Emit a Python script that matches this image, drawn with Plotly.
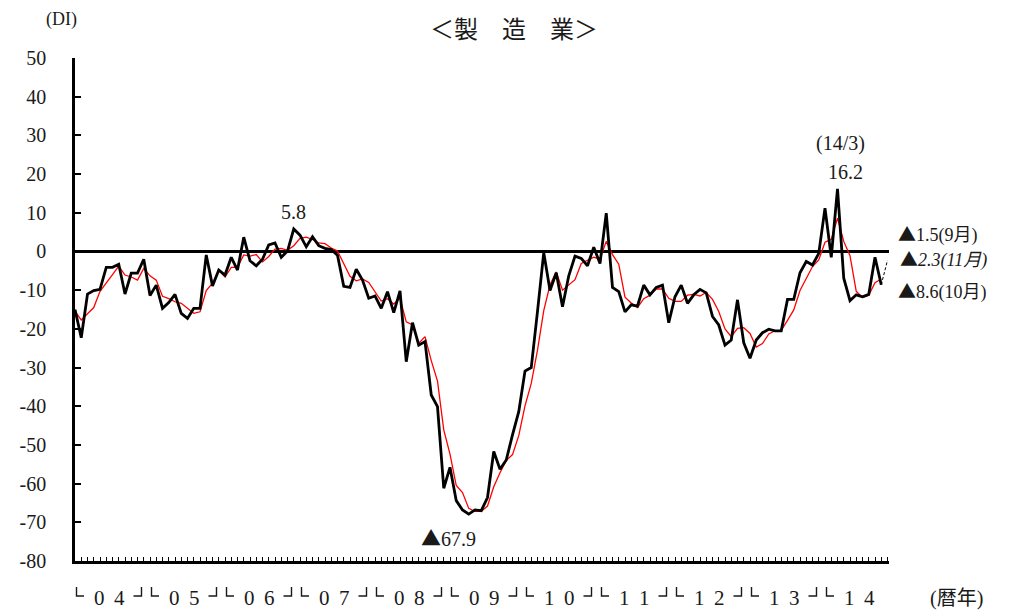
import plotly.graph_objects as go

# Monthly DI, Jan 2004 .. Oct 2014 (black line)
black_di = [
    -15.0, -22.3, -11.0, -10.1, -9.8, -4.1, -4.1, -3.3, -11.0, -5.6, -5.6, -2.0,
    -11.4, -8.7, -14.7, -13.2, -11.1, -16.0, -17.3, -14.7, -14.7, -0.9, -8.9, -4.8,
    -6.1, -1.5, -4.8, 3.7, -2.4, -3.7, -2.0, 1.7, 2.2, -1.5, 0.1, 5.8,
    4.2, 1.2, 3.8, 1.5, 0.8, 0.5, -1.0, -9.0, -9.3, -4.6, -7.4, -12.1,
    -11.5, -14.7, -10.4, -15.8, -10.2, -28.5, -18.4, -24.2, -23.3, -37.1, -40.1, -61.2,
    -55.8, -64.4, -66.8, -67.9, -66.8, -67.0, -63.6, -51.7, -56.3, -53.9, -47.4, -41.4,
    -30.9, -30.0, -15.5, -0.3, -10.1, -5.5, -14.3, -6.3, -1.2, -1.8, -3.7, 1.1,
    -3.1, 9.9, -9.3, -10.4, -15.6, -13.8, -14.1, -8.7, -11.2, -9.3, -8.7, -18.4,
    -11.7, -8.7, -13.4, -11.2, -9.8, -10.7, -16.8, -19.0, -24.2, -22.9, -12.5, -23.6,
    -27.6, -22.9, -21.0, -20.1, -20.5, -20.5, -12.4, -12.4, -5.5, -2.6, -3.5, -0.5,
    11.2, -1.5, 16.2, -6.9, -12.7, -11.2, -11.7, -11.1, -1.5, -8.6,
]

# Red line (smoothed)
red_ma = [
    -15.5, -17.7, -16.1, -14.5, -10.3, -8.0, -6.0, -3.8, -6.1, -6.6, -7.4, -4.4,
    -6.3, -7.4, -11.6, -12.2, -13.0, -13.4, -14.8, -16.0, -15.6, -10.1, -8.2, -4.9,
    -6.6, -4.1, -4.1, -0.9, -1.2, -0.8, -2.7, -1.3, 0.6, 0.8, 0.3, 1.5,
    3.4, 3.7, 3.1, 2.2, 2.0, 0.9, 0.1, -3.2, -6.4, -7.6, -7.1, -8.0,
    -10.3, -12.8, -12.2, -13.6, -12.1, -18.2, -19.0, -23.7, -22.0, -28.2, -33.5, -46.1,
    -52.4, -60.5, -62.3, -66.4, -67.2, -67.2, -65.8, -60.8, -57.2, -54.0, -52.5, -47.6,
    -39.9, -34.1, -25.5, -15.3, -8.6, -5.3, -10.0, -8.7, -7.3, -3.1, -2.2, -1.5,
    -1.9, 2.6, -0.8, -3.3, -11.8, -13.3, -14.5, -12.2, -11.3, -9.7, -9.7, -12.1,
    -12.9, -12.9, -11.3, -11.1, -11.5, -10.6, -12.4, -15.5, -20.0, -22.0, -19.9, -19.7,
    -21.2, -24.7, -23.8, -21.3, -20.5, -20.4, -17.8, -15.1, -10.1, -6.8, -3.9, -2.2,
    2.4, 3.1, 8.6, 2.6, -1.1, -10.3, -11.9, -11.3, -8.1, -7.1,
]

# Forecast (Oct 2014 -> Nov 2014)
forecast_x = [129, 130]
forecast_y = [-8.6, -2.3]

years = ["04", "05", "06", "07", "08", "09", "10", "11", "12", "13", "14"]
y_ticks = [50, 40, 30, 20, 10, 0, -10, -20, -30, -40, -50, -60, -70, -80]

FONT = "Liberation Serif, Noto Sans CJK JP, serif"
TRI = '<span style="font-family:Noto Sans CJK JP">▲</span>'
TXT = "#1a1a1a"

months = list(range(len(black_di)))

fig = go.Figure()
fig.add_trace(go.Scatter(x=months, y=red_ma, mode="lines",
                         line=dict(color="#ff0000", width=1.3), showlegend=False))
fig.add_trace(go.Scatter(x=months, y=black_di, mode="lines",
                         line=dict(color="#000000", width=2.8), showlegend=False))
fig.add_trace(go.Scatter(x=forecast_x, y=forecast_y, mode="lines",
                         line=dict(color="#000000", width=1, dash="3px,2px"), showlegend=False))

annotations = []
shapes = []
for k, yr in enumerate(years):
    x0 = 12 * k
    for d, off in ((yr[0], 24.5), (yr[1], 44.0)):
        annotations.append(dict(x=x0, xref="x", xshift=off, y=0, yref="paper", yshift=-37,
                                text=d, showarrow=False, xanchor="center", yanchor="middle",
                                font=dict(family=FONT, size=21, color=TXT)))
    shapes.append(dict(type="path", xref="x", yref="paper", xsizemode="pixel", ysizemode="pixel",
                       xanchor=x0, yanchor=0, path="M 1.5,-26 L 1.5,-35 L 9,-35",
                       line=dict(color=TXT, width=1.4)))
    if k < len(years) - 1:
        shapes.append(dict(type="path", xref="x", yref="paper", xsizemode="pixel", ysizemode="pixel",
                           xanchor=x0, yanchor=0, path="M 66.5,-26 L 66.5,-35 L 58.5,-35",
                           line=dict(color=TXT, width=1.4)))

def note(x, y, text, xanchor="center", size=20):
    annotations.append(dict(x=x, y=y, xref="paper", yref="paper", text=text,
                            showarrow=False, xanchor=xanchor, yanchor="middle",
                            font=dict(family=FONT, size=size, color=TXT)))

W, H = 1001, 603   # page body has an 8px offset
def px(xp):
    return (xp - 75) / 814.0
def py(yp):
    return (561 - yp) / 503.0

note(px(514), py(30), "＜製　造　業＞", size=24)
note(px(61), py(20), "(DI)", size=18)
note(px(957), py(598), "(暦年)", size=20)
note(px(293), py(212), "5.8")
note(px(448), py(537), TRI + "67.9")
note(px(840), py(143), "(14/3)")
note(px(845), py(172), "16.2")
note(px(896), py(233), TRI + "1.5(9月)", xanchor="left", size=18)
note(px(898), py(258), TRI + "<i>2.3(11月)</i>", xanchor="left", size=18)
note(px(896), py(290), TRI + "8.6(10月)", xanchor="left", size=18)

fig.update_layout(
    width=W, height=H,
    margin=dict(l=67, r=120, t=50, b=50, autoexpand=False),
    paper_bgcolor="white", plot_bgcolor="white",
    annotations=annotations, shapes=shapes,
    xaxis=dict(range=[0, 130.24], showgrid=False, zeroline=False, automargin=False,
               showline=True, linecolor="black", linewidth=3,
               ticks="inside", tickmode="linear", tick0=0, dtick=1,
               ticklen=4, tickwidth=1.2, tickcolor="black",
               showticklabels=False, fixedrange=True),
    yaxis=dict(range=[-80, 50], showgrid=False, automargin=False,
               zeroline=True, zerolinecolor="black", zerolinewidth=2.5,
               showline=True, linecolor="black", linewidth=2.5,
               ticks="inside", ticklen=6, tickwidth=2, tickcolor="black",
               tickmode="array", tickvals=y_ticks,
               ticktext=[str(v) for v in y_ticks],
               ticklabelstandoff=22,
               tickfont=dict(family=FONT, size=20, color=TXT),
               fixedrange=True),
)

fig.write_html("out.html")
